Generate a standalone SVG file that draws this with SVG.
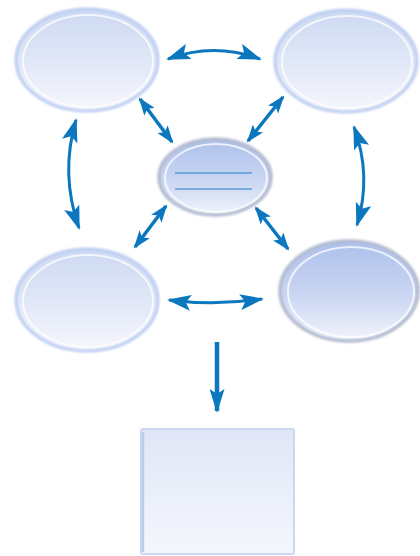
<svg xmlns="http://www.w3.org/2000/svg" width="420" height="556" viewBox="0 0 420 556">
  <style>
    .conn { fill: none; stroke: #0b77bf; stroke-width: 3; }
    .diag { fill: none; stroke: #0b77bf; stroke-width: 3.5; }
    .rim { fill: none; stroke: #bccdf1; stroke-width: 3; filter: url(#soft); }
    .rimdark { fill: none; stroke: #b2bbd0; stroke-width: 3.5; filter: url(#soft); }
    .hl { fill: none; stroke: #ffffff; stroke-width: 2; opacity: 0.75; }
  </style>
  <defs>
    <filter id="soft" x="-10%" y="-10%" width="120%" height="120%">
      <feGaussianBlur stdDeviation="1.1"/>
    </filter>
    <linearGradient id="gE" x1="0" y1="0" x2="0" y2="1">
      <stop offset="0" stop-color="#ccd9f2"/>
      <stop offset="0.5" stop-color="#e0e7f7"/>
      <stop offset="1" stop-color="#f6f7fd"/>
    </linearGradient>
    <linearGradient id="gD" x1="0" y1="0" x2="0" y2="1">
      <stop offset="0" stop-color="#adc0ec"/>
      <stop offset="0.55" stop-color="#cad6f2"/>
      <stop offset="1" stop-color="#f2f4fb"/>
    </linearGradient>
    <linearGradient id="gR" x1="0" y1="0" x2="0" y2="1">
      <stop offset="0" stop-color="#dfe6f6"/>
      <stop offset="1" stop-color="#f5f7fd"/>
    </linearGradient>
    <marker id="ah" viewBox="0 0 24 16" markerWidth="24" markerHeight="16" refX="22" refY="8" orient="auto-start-reverse" markerUnits="userSpaceOnUse">
      <path d="M0,0 L24,8 L0,16 L5,8 z" fill="#0b77bf"/>
    </marker>
    <marker id="ahs" viewBox="0 0 18 13" markerWidth="18" markerHeight="13" refX="16" refY="6.5" orient="auto-start-reverse" markerUnits="userSpaceOnUse">
      <path d="M0,0 L18,6.5 L0,13 L4,6.5 z" fill="#0b77bf"/>
    </marker>
    <marker id="ahd" viewBox="0 0 24 15" markerWidth="24" markerHeight="15" refX="22" refY="7.5" orient="auto" markerUnits="userSpaceOnUse">
      <path d="M0,0 L24,7.5 L0,15 L5,7.5 z" fill="#0b77bf"/>
    </marker>
  </defs>

  <g id="node-tl">
    <ellipse cx="87" cy="60" rx="71" ry="51" fill="url(#gE)"/>
    <ellipse class="rim" cx="87" cy="60" rx="71" ry="51"/>
    <ellipse class="hl" cx="88" cy="61" rx="65" ry="46"/>
  </g>
  <g id="node-tr">
    <ellipse cx="346" cy="61" rx="71" ry="51" fill="url(#gE)"/>
    <ellipse class="rim" cx="346" cy="61" rx="71" ry="51"/>
    <ellipse class="hl" cx="347" cy="62" rx="65" ry="46"/>
  </g>
  <g id="node-center">
    <ellipse cx="215" cy="177" rx="56" ry="38" fill="url(#gD)"/>
    <ellipse class="rimdark" cx="215" cy="177" rx="56" ry="38"/>
    <ellipse class="hl" cx="216" cy="178" rx="51" ry="34"/>
    <line x1="175" y1="173" x2="252" y2="173" stroke="#1c80c6" stroke-width="1.2"/>
    <line x1="175" y1="189" x2="252" y2="189" stroke="#1c80c6" stroke-width="1.2"/>
  </g>
  <g id="node-bl">
    <ellipse cx="87" cy="300" rx="71" ry="51" fill="url(#gE)"/>
    <ellipse class="rim" cx="87" cy="300" rx="71" ry="51"/>
    <ellipse class="hl" cx="88" cy="301" rx="65" ry="46"/>
  </g>
  <g id="node-br">
    <ellipse cx="349" cy="291" rx="69" ry="50" fill="url(#gD)"/>
    <ellipse class="rimdark" cx="349" cy="291" rx="69" ry="50"/>
    <ellipse class="hl" cx="351" cy="292" rx="63" ry="45"/>
  </g>
  <g id="node-rect">
    <rect x="141" y="429" width="153" height="125" rx="2" fill="url(#gR)" stroke="#ccd8f2" stroke-width="2"/>
    <line x1="143" y1="432" x2="143" y2="552" stroke="#bdcdef" stroke-width="2.5"/>
  </g>

  <g id="connectors">
    <path class="conn" d="M168,59 Q214,42 260,59" marker-start="url(#ah)" marker-end="url(#ah)"/>
    <path class="conn" d="M169,300 Q215,306 262,299" marker-start="url(#ah)" marker-end="url(#ah)"/>
    <path class="conn" d="M76,120 Q60,174 79,228" marker-start="url(#ah)" marker-end="url(#ah)"/>
    <path class="conn" d="M354,127 Q372,176 357,225" marker-start="url(#ah)" marker-end="url(#ah)"/>
    <path class="diag" d="M140,99 L172,142" marker-start="url(#ahs)" marker-end="url(#ahs)"/>
    <path class="diag" d="M283,97 L248,141" marker-start="url(#ahs)" marker-end="url(#ahs)"/>
    <path class="diag" d="M166,206 L135,247" marker-start="url(#ahs)" marker-end="url(#ahs)"/>
    <path class="diag" d="M256,208 L288,249" marker-start="url(#ahs)" marker-end="url(#ahs)"/>
    <path d="M217,342 L217,411" fill="none" stroke="#0b77bf" stroke-width="4.5" marker-end="url(#ahd)"/>
  </g>
</svg>
